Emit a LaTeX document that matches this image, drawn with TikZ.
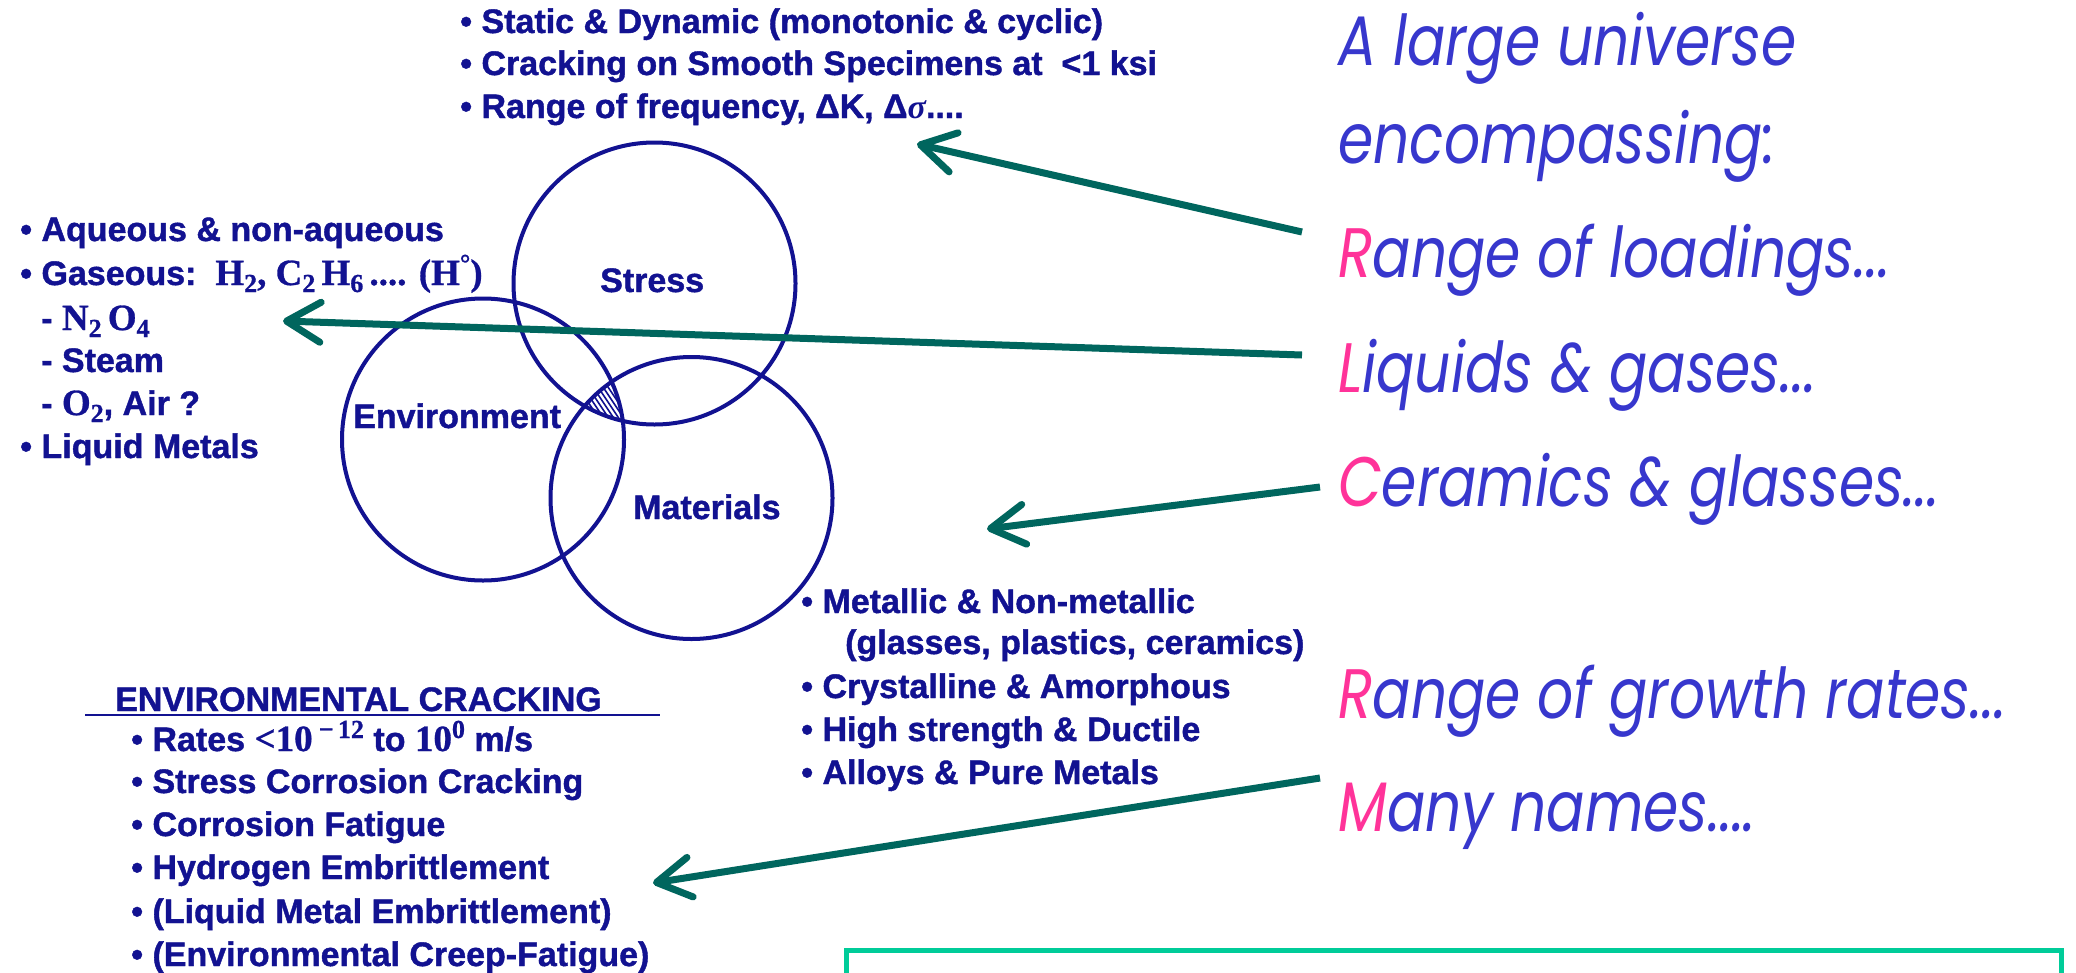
\documentclass[tikz,border=0pt]{standalone}
\usepackage{fontspec}
\usetikzlibrary{arrows.meta}
\newfontfamily\dfont{Liberation Sans}[BoldFeatures={FakeBold=1.2}]
\newfontfamily\sfont{Liberation Serif}[BoldFeatures={FakeBold=0.8}]
\newfontfamily\rfont{Poppins}[FakeStretch=0.81]
\definecolor{dblue}{RGB}{18,18,145}
\definecolor{rblue}{RGB}{55,55,205}
\definecolor{pinkc}{RGB}{255,51,153}
\definecolor{tealc}{RGB}{0,102,94}
\definecolor{gboxc}{RGB}{0,204,153}
\newcommand\dsub[1]{\raisebox{-7pt}{\fontsize{26}{26}\selectfont #1}}
\newcommand\dsup[1]{\raisebox{13pt}{\fontsize{26}{26}\selectfont #1}}
\newcommand\srf[1]{{\sfont\bfseries\fontsize{37}{37}\selectfont #1}}
\newcommand\pk[1]{\textcolor{pinkc}{#1}}
\begin{document}
\begin{tikzpicture}[x=1pt,y=-1pt,
  dtext/.style={anchor=base west,inner sep=0pt,text=dblue,font=\dfont\bfseries\fontsize{34}{34}\selectfont},
  rtext/.style={anchor=base west,inner sep=0pt,text=rblue,font=\rfont\itshape\fontsize{70}{70}\selectfont},
  circ/.style={circle,draw=dblue,line width=4pt,minimum size=282pt,inner sep=0pt},
  arr/.style={draw=tealc,line width=7pt,-{Straight Barb[length=34pt,width=40pt,round]}}]
\fill[white] (0,0) rectangle (2076,972);
\useasboundingbox (0,0) rectangle (2076,972);
% circles
\node[circ] (stress) at (654.5,283.5) {};
\node[circ] (env) at (483,439.5) {};
\node[circ] (mat) at (691.5,498) {};
\begin{scope}
\clip (stress.center) circle[radius=141pt];
\clip (env.center) circle[radius=141pt];
\clip (mat.center) circle[radius=141pt];
\foreach \k in {0,5,...,100} \draw[dblue,line width=1.6pt] (540+\k,360) -- (590+\k,435);
\end{scope}
\node[dtext] (lstress) at (600,292) {Stress};
\node[dtext] (lenv) at (353,428) {Environment};
\node[dtext] (lmat) at (633,519) {Materials};
% top block
\node[dtext] (s1) at (460,33) {• Static \& Dynamic (monotonic \& cyclic)};
\node[dtext] (s2) at (460,75) {• Cracking on Smooth Specimens at~~<1 ksi};
\node[dtext] (s3) at (460,118) {• Range of frequency, ΔK, Δ{\sfont\itshape σ}....};
% left block
\node[dtext] (e1) at (20,241) {• Aqueous \& non-aqueous};
\node[dtext] (e2) at (20,285) {• Gaseous:~~\srf{H\dsub{2}, C\dsub{2}\,H\dsub{6}\,.... (H\dsup{°})}};
\node[dtext] (e3) at (41,330) {- \srf{N\dsub{2}\,O\dsub{4}}};
\node[dtext] (e4) at (41,372) {- Steam};
\node[dtext] (e5) at (41,415) {- \srf{O\dsub{2}}, Air ?};
\node[dtext] (e6) at (20,458) {• Liquid Metals};
% materials block
\node[dtext] (m1) at (801,613) {• Metallic \& Non-metallic};
\node[dtext] (m2) at (845,654) {(glasses, plastics, ceramics)};
\node[dtext] (m3) at (801,698) {• Crystalline \& Amorphous};
\node[dtext] (m4) at (801,741) {• High strength \& Ductile};
\node[dtext] (m5) at (801,784) {• Alloys \& Pure Metals};
% environmental cracking block
\node[dtext] (ech) at (115,711) {ENVIRONMENTAL CRACKING};
\coordinate (ul1) at (85,715);
\coordinate (ul2) at (660,715);
\draw[dblue,line width=2.5pt] (ul1) -- (ul2);
\node[dtext] (c1) at (131,751) {• Rates \srf{<10\,\dsup{−\,12}} to \srf{10\dsup{0}} m/s};
\node[dtext] (c2) at (131,793) {• Stress Corrosion Cracking};
\node[dtext] (c3) at (131,836) {• Corrosion Fatigue};
\node[dtext] (c4) at (131,879) {• Hydrogen Embrittlement};
\node[dtext] (c5) at (131,923) {• (Liquid Metal Embrittlement)};
\node[dtext] (c6) at (131,966) {• (Environmental Creep-Fatigue)};
% right text
\node[rtext] (r1) at (1338,65) {A large universe};
\node[rtext] (r2) at (1338,163) {encompassing:};
\node[rtext] (r3) at (1338,277) {\pk{R}ange of loadings...};
\node[rtext] (r4) at (1338,392) {\pk{L}iquids \& gases...};
\node[rtext] (r5) at (1338,506) {\pk{C}eramics \& glasses...};
\node[rtext] (r6) at (1338,718) {\pk{R}ange of growth rates...};
\node[rtext] (r7) at (1338,831) {\pk{M}any names....};
% arrows
\coordinate (a1s) at (1302,232); \coordinate (a1e) at (917,144);
\coordinate (a2s) at (1302,355); \coordinate (a2e) at (283,321);
\coordinate (a3s) at (1320,487); \coordinate (a3e) at (987,529);
\coordinate (a4s) at (1320,778); \coordinate (a4e) at (653,883);
\draw[arr] (a1s) -- (a1e);
\draw[arr] (a2s) -- (a2e);
\draw[arr] (a3s) -- (a3e);
\draw[arr] (a4s) -- (a4e);
% green box
\node[draw=gboxc,line width=5pt,minimum width=1215pt,minimum height=120pt,anchor=north west,inner sep=0pt] (gbox) at (844,948) {};
\end{tikzpicture}
\end{document}
